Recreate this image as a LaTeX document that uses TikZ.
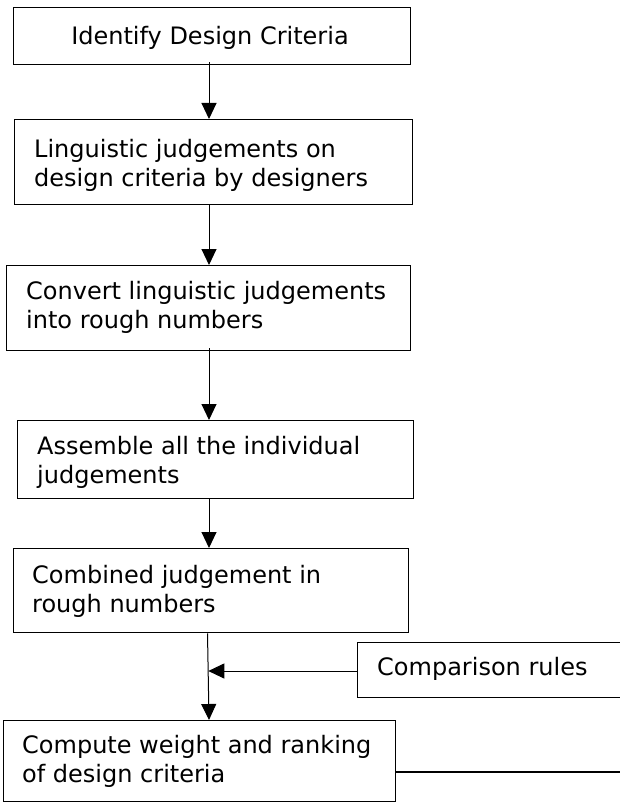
\documentclass[tikz,border=0pt]{standalone}
\usepackage{fontspec}
\setmainfont{DejaVu Sans}
\usetikzlibrary{arrows.meta}
\tikzset{
  box/.style={draw=black, line width=1.3pt, inner sep=0pt, anchor=north west},
  lbl/.style={inner sep=0pt, anchor=base west, align=left, font=\fontsize{24}{29}\selectfont},
  arr/.style={draw=black, line width=1pt, -{Triangle[length=16pt,width=15pt]}},
  ln/.style={draw=black, line width=1.3pt}
}
\begin{document}
\begin{tikzpicture}[x=1pt,y=-1pt]
\useasboundingbox (0,0) rectangle (620,802);
% boxes
\node[box, minimum width=397pt, minimum height=57pt] (b1) at (13,7) {};
\node[box, minimum width=398pt, minimum height=85pt] (b2) at (14,119) {};
\node[box, minimum width=404pt, minimum height=85pt] (b3) at (6,265) {};
\node[box, minimum width=396pt, minimum height=78pt] (b4) at (17,420) {};
\node[box, minimum width=395pt, minimum height=84pt] (b5) at (13,548) {};
\node[box, minimum width=265pt, minimum height=55pt] (bc) at (357,642) {};
\node[box, minimum width=392pt, minimum height=81pt] (b6) at (3,720) {};
% texts (base anchor = baseline of the last line)
\node[lbl, anchor=base] (t1) at (210,45) {Identify Design Criteria};
\node[lbl] (t2) at (34,187) {Linguistic judgements on\\design criteria by designers};
\node[lbl] (t3) at (26,328) {Convert linguistic judgements\\into rough numbers};
\node[lbl] (t4) at (37,483) {Assemble all the individual\\judgements};
\node[lbl] (t5) at (32,612) {Combined judgement in\\rough numbers};
\node[lbl] (tc) at (377,675) {Comparison rules};
\node[lbl] (t6) at (22,782) {Compute weight and ranking\\of design criteria};
% helper coordinates
\coordinate (col) at (209,0);
\coordinate (coltop) at (207.5,0);
\coordinate (j) at (208.3,671);
\coordinate (rend) at (622,772);
% connectors
\draw[arr] ([yshift=3pt]b1.south -| col) -- (b2.north -| col);
\draw[arr] (b2.south -| col) -- (b3.north -| col);
\draw[arr] ([yshift=3pt]b3.south -| col) -- (b4.north -| col);
\draw[arr] (b4.south -| col) -- (b5.north -| col);
\draw[arr] (b5.south -| coltop) -- (b6.north -| col);
\draw[arr] (bc.west |- j) -- (j);
\draw[ln] (b6.east |- rend) -- (rend);
\end{tikzpicture}
\end{document}
